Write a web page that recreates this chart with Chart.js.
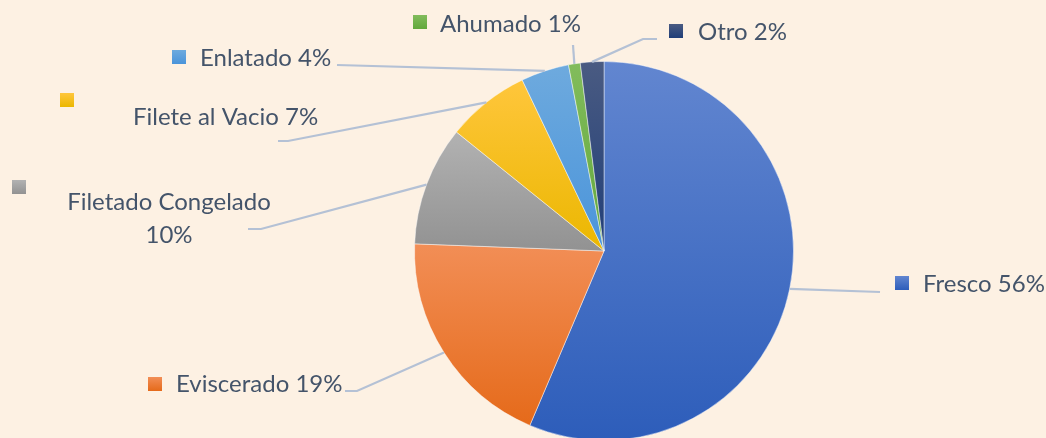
<!DOCTYPE html>
<html>
<head>
<meta charset="utf-8">
<script src="https://cdn.jsdelivr.net/npm/chart.js@4.4.0/dist/chart.umd.min.js"></script>
<style>
    html, body { margin: 0; padding: 0; background: #fdf1e3; overflow: hidden; }
    #wrap { width: 1046px; height: 460px; }
</style>
</head>
<body>
<div id="wrap"><canvas id="pieChart" width="1046" height="460"></canvas></div>
<script>
// Data
const categories = ["Fresco", "Eviscerado", "Filetado Congelado", "Filete al Vacio", "Enlatado", "Ahumado", "Otro"];
const shares = [56.4, 19.2, 10.2, 7.1, 4.1, 1.0, 2.0];

// Colors (top / bottom of each slice gradient)
const topColors = ["#6286d0", "#f28e56", "#b2b2b2", "#ffc63c", "#6eaade", "#82bc5c", "#4a5b82"];
const bottomColors = ["#2d5dba", "#e56a1a", "#929292", "#ebb700", "#4a94da", "#62a83c", "#203e78"];
const textColor = "#44546a";
const leaderColor = "#b4c1d5";

// Label layout: legend key, text lines and leader line points
const labelLayout = [
    { key: [895, 276], lines: [["Fresco 56%", 923, 284]], path: [[880, 292]] },
    { key: [148, 377], lines: [["Eviscerado 19%", 176, 384]], path: [[357, 391], [345, 391]] },
    { key: [12, 180], lines: [["Filetado Congelado", 169, 202], ["10%", 169, 235]], center: true, path: [[261, 229], [248, 229]] },
    { key: [60, 93], lines: [["Filete al Vacio 7%", 133, 117]], path: [[288, 141], [278, 141]] },
    { key: [172, 50], lines: [["Enlatado 4%", 200, 58]], path: [[337, 65]] },
    { key: [413, 15], lines: [["Ahumado 1%", 440, 24]], path: [[573, 45]] },
    { key: [669, 24], lines: [["Otro 2%", 698, 32]], path: [[643, 39], [657, 39]] }
];

const total = shares.reduce((a, b) => a + b, 0);

function sliceGradient(context) {
    const chart = context.chart;
    const area = chart.chartArea;
    const i = context.dataIndex;
    if (!area) return topColors[i];

    const cy = (area.top + area.bottom) / 2;
    const r = Math.min(area.width, area.height) / 2;
    const before = shares.slice(0, i).reduce((a, b) => a + b, 0);
    const a0 = -Math.PI / 2 + 2 * Math.PI * before / total;
    const a1 = a0 + 2 * Math.PI * shares[i] / total;

    const ys = [cy, cy + r * Math.sin(a0), cy + r * Math.sin(a1)];
    if (a0 < Math.PI / 2 && a1 > Math.PI / 2) ys.push(cy + r);
    if (a0 < 1.5 * Math.PI && a1 > 1.5 * Math.PI) ys.push(cy - r);

    const g = chart.ctx.createLinearGradient(0, Math.min(...ys), 0, Math.max(...ys));
    g.addColorStop(0, topColors[i]);
    g.addColorStop(1, bottomColors[i]);
    return g;
}

// Draw leader lines, keys and labels
const labelPlugin = {
    id: "sliceLabels",
    afterDatasetsDraw(chart) {
        const ctx = chart.ctx;
        const meta = chart.getDatasetMeta(0);

        meta.data.forEach((arc, i) => {
            const layout = labelLayout[i];
            const mid = (arc.startAngle + arc.endAngle) / 2;
            const sx = arc.x + Math.cos(mid) * arc.outerRadius;
            const sy = arc.y + Math.sin(mid) * arc.outerRadius;

            ctx.save();
            ctx.strokeStyle = leaderColor;
            ctx.lineWidth = 2.2;
            ctx.beginPath();
            ctx.moveTo(sx, sy);
            layout.path.forEach(p => ctx.lineTo(p[0], p[1]));
            ctx.stroke();

            // legend key
            const kx = layout.key[0], ky = layout.key[1];
            const kg = ctx.createLinearGradient(0, ky, 0, ky + 14);
            kg.addColorStop(0, topColors[i]);
            kg.addColorStop(1, bottomColors[i]);
            ctx.fillStyle = kg;
            ctx.fillRect(kx, ky, 14, 14);

            ctx.fillStyle = textColor;
            ctx.font = "24px Lato";
            ctx.textBaseline = "middle";
            ctx.textAlign = layout.center ? "center" : "left";
            layout.lines.forEach(line => ctx.fillText(line[0], line[1], line[2]));
            ctx.restore();
        });
    }
};

new Chart(document.getElementById("pieChart"), {
    type: "pie",
    data: {
        labels: categories,
        datasets: [{
            data: shares,
            backgroundColor: sliceGradient,
            borderColor: "rgba(255,255,255,0.45)",
            borderWidth: 1
        }]
    },
    options: {
        responsive: false,
        animation: false,
        events: [],
        layout: { padding: { left: 414, right: 252, top: 61, bottom: 19 } },
        plugins: {
            legend: { display: false },
            tooltip: { enabled: false }
        }
    },
    plugins: [labelPlugin]
});
</script>
</body>
</html>
